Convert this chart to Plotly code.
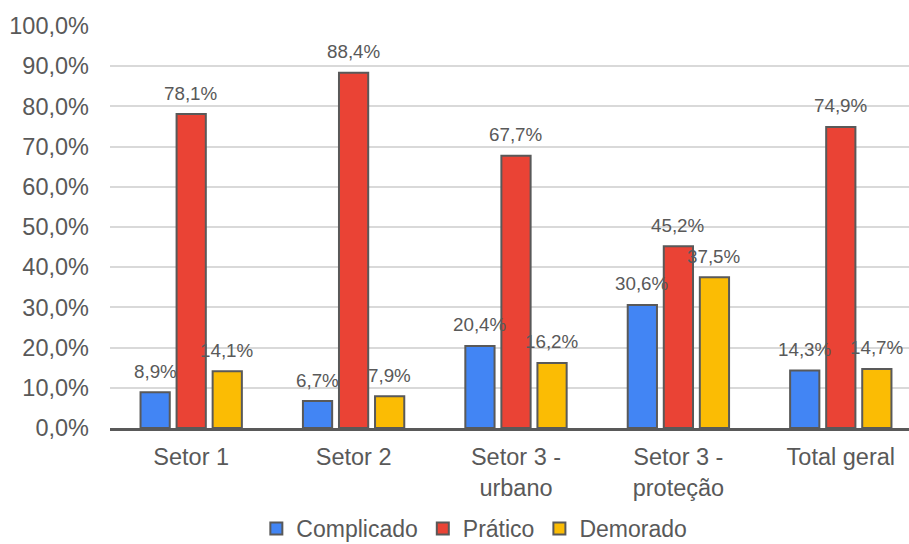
import plotly.graph_objects as go

# Survey results per sector (share of respondents)
categories = ["Setor 1", "Setor 2", "Setor 3 -<br>urbano", "Setor 3 -<br>proteção", "Total geral"]
complicado = [0.089, 0.067, 0.204, 0.306, 0.143]
pratico = [0.781, 0.884, 0.677, 0.452, 0.749]
demorado = [0.141, 0.079, 0.162, 0.375, 0.147]

series = [
    ("Complicado", complicado, "#4285F4"),
    ("Prático", pratico, "#EA4335"),
    ("Demorado", demorado, "#FBBC04"),
]

FONT = "Liberation Sans, Arial, sans-serif"
TEXT = "#595959"

slot = 0.222      # distance between bar centres inside a group (category units)
bar_w = 0.18      # bar width (category units)
xpos = list(range(len(categories)))

fig = go.Figure()
annotations = []
for k, (name, vals, color) in enumerate(series):
    shift = (k - 1) * slot
    fig.add_trace(go.Bar(
        name=name,
        x=xpos,
        y=vals,
        width=bar_w,
        offset=shift - bar_w / 2,
        marker=dict(color=color, line=dict(color=TEXT, width=2)),
    ))
    for i, v in enumerate(vals):
        annotations.append(dict(
            x=i + shift, y=v, xref="x", yref="y",
            text=f"{v * 100:.1f}".replace(".", ",") + "%",
            showarrow=False, yanchor="middle", yshift=21,
            font=dict(family=FONT, size=18.8, color=TEXT),
        ))

fig.update_layout(
    width=909, height=544,
    margin=dict(l=110, r=0, t=26, b=116, autoexpand=False),
    paper_bgcolor="white", plot_bgcolor="white",
    barmode="overlay",
    separators=",.",
    font=dict(family=FONT, color=TEXT, size=23.5),
    annotations=annotations,
    legend=dict(
        orientation="h", x=0.456, xanchor="center", y=-0.25, yanchor="middle",
        font=dict(family=FONT, size=23, color=TEXT),
        itemwidth=30, tracegroupgap=0,
    ),
    xaxis=dict(
        range=[-0.5, 4.42],
        tickmode="array", tickvals=xpos, ticktext=categories,
        showgrid=False, zeroline=False,
        showline=True, linecolor=TEXT, linewidth=2.5,
        ticks="", tickfont=dict(size=23.5, color=TEXT),
        ticklabelstandoff=6,
    ),
    yaxis=dict(
        range=[0, 1.0], dtick=0.1, tickformat=".1%",
        showgrid=True, gridcolor="#D9D9D9", gridwidth=1.5,
        zeroline=False, showline=False,
        tickfont=dict(size=23.5, color=TEXT),
        ticks="", ticklabelstandoff=20,
    ),
)

fig.write_html("out.html")
